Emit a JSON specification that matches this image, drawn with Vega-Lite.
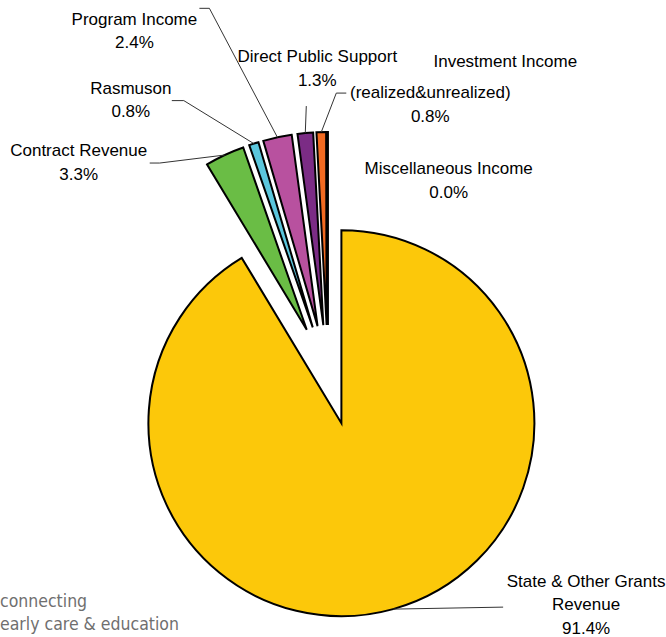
{
  "$schema": "https://vega.github.io/schema/vega-lite/v6.json",
  "width": 656,
  "height": 524,
  "autosize": {"type": "none"},
  "padding": {"left": 0, "top": 113, "right": 10, "bottom": 0},
  "background": "white",
  "title": {
    "text": ["connecting", "early care & education"],
    "orient": "bottom",
    "anchor": "start",
    "frame": "group",
    "offset": -44,
    "align": "left",
    "font": "Liberation Sans Narrow, DejaVu Sans Condensed, Liberation Sans, sans-serif",
    "fontSize": 17.5,
    "fontWeight": "normal",
    "lineHeight": 23,
    "color": "#6f6f6f"
  },
  "data": {
    "values": [
      {"category": "State & Other Grants Revenue", "pct": 91.4},
      {"category": "Contract Revenue", "pct": 3.3},
      {"category": "Rasmuson", "pct": 0.8},
      {"category": "Program Income", "pct": 2.4},
      {"category": "Direct Public Support", "pct": 1.3},
      {"category": "Investment Income (realized&unrealized)", "pct": 0.8},
      {"category": "Miscellaneous Income", "pct": 0.04}
    ]
  },
  "transform": [
    {"window": [{"op": "row_number", "as": "idx"}]},
    {"joinaggregate": [{"op": "sum", "field": "pct", "as": "total"}]},
    {
      "window": [{"op": "sum", "field": "pct", "as": "cum"}],
      "sort": [{"field": "idx"}],
      "frame": [null, 0]
    },
    {"calculate": "(datum.cum - datum.pct) / datum.total", "as": "t0"},
    {"calculate": "datum.cum / datum.total", "as": "t1"},
    {"calculate": "(datum.cum - datum.pct / 2) / datum.total", "as": "tm"},
    {"calculate": "2 * PI * datum.tm", "as": "mid"},
    {"calculate": "50 * sin(datum.mid)", "as": "ex"},
    {"calculate": "-50 * cos(datum.mid)", "as": "ey"}
  ],
  "layer": [
    {
      "mark": {"type": "arc", "radius": 193, "stroke": "black", "strokeWidth": 2},
      "encoding": {
        "theta": {
          "field": "t0",
          "type": "quantitative",
          "stack": null,
          "scale": {"domain": [0, 1], "range": [0, 6.283185307179586]}
        },
        "theta2": {"field": "t1"},
        "color": {
          "field": "category",
          "type": "nominal",
          "legend": null,
          "scale": {
            "domain": [
              "State & Other Grants Revenue",
              "Contract Revenue",
              "Rasmuson",
              "Program Income",
              "Direct Public Support",
              "Investment Income (realized&unrealized)",
              "Miscellaneous Income"
            ],
            "range": ["#FCC80A", "#6ABD45", "#5BC6DC", "#B8519F", "#7B2C85", "#F26A21", "#A6A6A6"]
          }
        },
        "xOffset": {"field": "ex", "type": "quantitative", "scale": null},
        "yOffset": {"field": "ey", "type": "quantitative", "scale": null}
      }
    },
    {
      "transform": [
        {"filter": "datum.idx < 7"},
        {"calculate": "width / 2 + 243 * sin(datum.mid)", "as": "ax"},
        {"calculate": "height / 2 - 243 * cos(datum.mid)", "as": "ay"},
        {"calculate": "datum.ax + [110, -65, -70, -68, 1, 15][datum.idx - 1]", "as": "bx"},
        {"calculate": "datum.ay + [-2, 8, -43, -129, -27, -39][datum.idx - 1]", "as": "by"}
      ],
      "mark": {"type": "rule", "stroke": "#333333", "strokeWidth": 1},
      "encoding": {
        "x": {"field": "ax", "type": "quantitative", "scale": null},
        "y": {"field": "ay", "type": "quantitative", "scale": null},
        "x2": {"field": "bx"},
        "y2": {"field": "by"}
      }
    },
    {
      "transform": [
        {"filter": "datum.idx == 2 || datum.idx == 3 || datum.idx == 4 || datum.idx == 6"},
        {"calculate": "width / 2 + 243 * sin(datum.mid) + [110, -65, -70, -68, 1, 15][datum.idx - 1]", "as": "bx"},
        {"calculate": "height / 2 - 243 * cos(datum.mid) + [-2, 8, -43, -129, -27, -39][datum.idx - 1]", "as": "by"},
        {"calculate": "datum.bx + [0, -10, -12, -10, 0, 10][datum.idx - 1]", "as": "sx"}
      ],
      "mark": {"type": "rule", "stroke": "#333333", "strokeWidth": 1},
      "encoding": {
        "x": {"field": "bx", "type": "quantitative", "scale": null},
        "y": {"field": "by", "type": "quantitative", "scale": null},
        "x2": {"field": "sx"}
      }
    },
    {
      "transform": [
        {
          "calculate": "replace(replace(datum.category, 'Grants ', 'Grants\\n'), 'Investment Income ', '') + '\\n' + format(datum.pct / 100, '.1%')",
          "as": "label"
        }
      ],
      "mark": {
        "type": "text",
        "radius": 243,
        "font": "Liberation Sans",
        "fontSize": 17,
        "lineBreak": "\n",
        "lineHeight": 23.5,
        "align": "center",
        "baseline": "middle",
        "color": "black",
        "dx": {"expr": "[193, -146, -123, -143, 12, 109, 121][datum.idx - 1]"},
        "dy": {"expr": "[-27.5, -3.75, -54.75, -117.75, -75.75, -39, 37.25][datum.idx - 1]"}
      },
      "encoding": {
        "theta": {"field": "tm", "type": "quantitative", "stack": null},
        "text": {"field": "label", "type": "nominal"}
      }
    },
    {
      "transform": [
        {"filter": "datum.idx == 6"},
        {"calculate": "replace(datum.category, ' (realized&unrealized)', '')", "as": "label"}
      ],
      "mark": {
        "type": "text",
        "radius": 243,
        "font": "Liberation Sans",
        "fontSize": 17,
        "align": "center",
        "baseline": "middle",
        "color": "black",
        "dx": 184,
        "dy": -70
      },
      "encoding": {
        "theta": {"field": "tm", "type": "quantitative", "stack": null},
        "text": {"field": "label", "type": "nominal"}
      }
    }
  ],
  "config": {"view": {"stroke": null}}
}
